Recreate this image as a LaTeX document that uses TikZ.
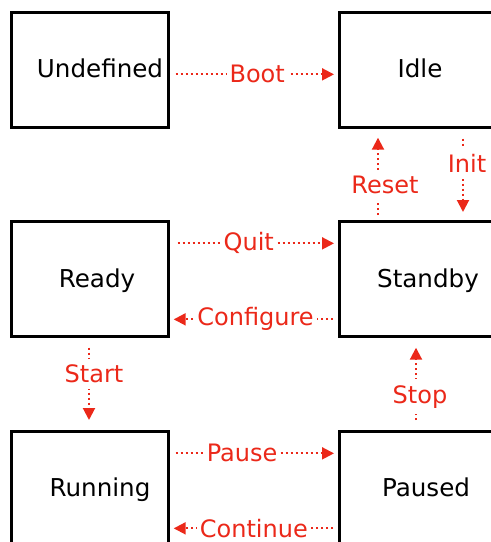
\documentclass[tikz,border=0pt]{standalone}
\usepackage{fontspec}
\setmainfont{DejaVu Sans}
\usetikzlibrary{arrows.meta}
\definecolor{ered}{RGB}{235,40,25}
\begin{document}
\begin{tikzpicture}[x=1pt,y=-1pt,
  box/.style={draw=black,line width=2.7pt,rectangle,minimum width=157pt,minimum height=115pt,inner sep=0pt,anchor=north west},
  txt/.style={font=\fontsize{24.6}{29}\selectfont,inner sep=0pt,anchor=base},
  edge/.style={draw=ered,line width=2pt,dash pattern=on 2pt off 3pt,-{Triangle[length=12pt,width=12pt]}},
  lab/.style={font=\fontsize{24}{28}\selectfont,text=ered,fill=white,inner xsep=3pt,inner ysep=2pt},
  vlab/.style={lab,inner ysep=6pt}]
\useasboundingbox (0,0) rectangle (491,542);
\node[box] (un) at (10,11) {};
\node[box] (id) at (338,11) {};
\node[box] (re) at (10,220) {};
\node[box] (st) at (338,220) {};
\node[box] (ru) at (10,430) {};
\node[box] (pa) at (338,430) {};
\node[txt] (tun) at (100,77) {Undefined};
\node[txt] (tid) at (420,77) {Idle};
\node[txt] (tre) at (97,287) {Ready};
\node[txt] (tst) at (428,287) {Standby};
\node[txt] (tru) at (100,496) {Running};
\node[txt] (tpa) at (426,496) {Paused};
% horizontal
\draw[edge,shorten <=6pt,shorten >=4pt] ([yshift=-4.5pt]un.east) -- node[lab,pos=0.52]{Boot} ([yshift=-4.5pt]id.west);
\draw[edge,shorten <=8pt,shorten >=4pt] ([yshift=35.5pt]re.east) -- node[lab,pos=0.47]{Quit} ([yshift=35.5pt]st.west);
\draw[edge,shorten <=5pt,shorten >=4pt] ([yshift=-40.5pt]st.west) -- node[lab,pos=0.49]{Configure} ([yshift=-40.5pt]re.east);
\draw[edge,shorten <=6pt,shorten >=4pt] ([yshift=35.5pt]ru.east) -- node[lab,pos=0.43]{Pause} ([yshift=35.5pt]pa.west);
\draw[edge,shorten <=5pt,shorten >=4pt] ([yshift=-39.5pt]pa.west) -- node[lab,pos=0.5]{Continue} ([yshift=-39.5pt]ru.east);
% vertical
\draw[edge,shorten <=5pt,shorten >=9pt] ([xshift=40pt]st.north west) -- node[vlab,pos=0.38,xshift=7pt]{Reset} ([xshift=40pt]id.south west);
\draw[edge,shorten <=10pt,shorten >=8pt] ([xshift=125pt]id.south west) -- node[vlab,pos=0.38,xshift=4pt]{Init} ([xshift=125pt]st.north west);
\draw[edge,shorten <=10pt,shorten >=10pt] ([xshift=79pt]re.south west) -- node[vlab,pos=0.39,xshift=5pt]{Start} ([xshift=79pt]ru.north west);
\draw[edge,shorten <=10pt,shorten >=10pt] ([xshift=78pt]pa.north west) -- node[vlab,pos=0.36,xshift=4pt]{Stop} ([xshift=78pt]st.south west);
\end{tikzpicture}
\end{document}
